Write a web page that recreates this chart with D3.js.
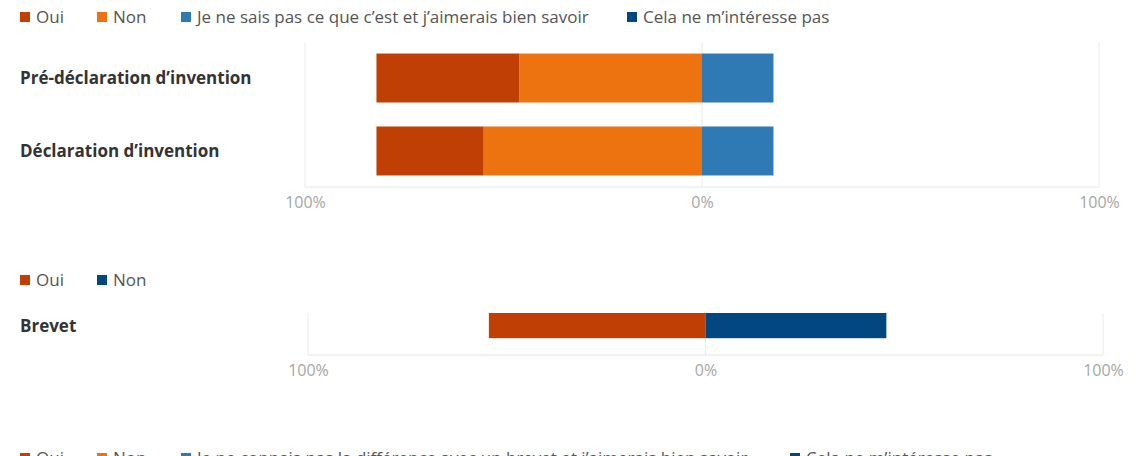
<!DOCTYPE html>
<html>
<head>
<meta charset="utf-8">
<script src="https://cdn.jsdelivr.net/npm/d3@7"></script>
<style>
  body { margin: 0; background: #fff; }
  svg text { font-family: "Open Sans", "Noto Sans", sans-serif; }
</style>
</head>
<body>
<div id="vis"></div>
<script>
// data (percent of answers)
var seriesA = ['Oui', 'Non', 'Je ne sais pas ce que c’est et j’aimerais bien savoir', 'Cela ne m’intéresse pas'];
var categoriesA = ['Pré-déclaration d’invention', 'Déclaration d’invention'];
var ouiA = [36, 27];
var nonA = [46, 55];
var jnspA = [18, 18];
var celaA = [0, 0];

var seriesB = ['Oui', 'Non'];
var categoriesB = ['Brevet'];
var ouiB = [54.5];
var nonB = [45.5];

var seriesC = ['Oui', 'Non', 'Je ne connais pas la différence avec un brevet et j’aimerais bien savoir', 'Cela ne m’intéresse pas'];

var tickValues = [-100, 0, 100];
var tickLabels = ['100%', '0%', '100%'];

var W = 1144, H = 456;

var svg = d3.select('#vis')
    .append('svg')
        .attr('width', W)
        .attr('height', H);

var legend = (y, names, colors, xs) => {
    var g = svg.append('g').attr('transform', 'translate(0,' + y + ')');
    names.forEach((name, i) => {
        g.append('rect')
            .attr('x', xs[i])
            .attr('y', -5)
            .attr('width', 10)
            .attr('height', 10)
            .style('fill', colors[i]);
        g.append('text')
            .attr('x', xs[i] + 16)
            .attr('y', 0)
            .attr('dy', '0.35em')
            .style('font-size', '17px')
            .style('fill', '#555')
            .text(name);
    });
}

// diverging stacked bar: series listed in negSeries go left of zero,
// the first of them ends up outermost
var diverging = (cfg) => {
    var x = d3.scaleLinear()
        .domain([-100, 100])
        .range(cfg.xRange);

    var y = d3.scaleBand()
        .domain(cfg.categories)
        .range(cfg.yRange)
        .paddingInner(cfg.pi)
        .paddingOuter(cfg.po)
        .align(cfg.align);

    var g = svg.append('g');

    // grid
    g.append('g')
        .selectAll('line')
        .data(tickValues)
        .enter()
        .append('line')
            .attr('x1', d => x(d))
            .attr('x2', d => x(d))
            .attr('y1', cfg.yRange[0])
            .attr('y2', cfg.yRange[1])
            .style('stroke', '#ececec')
            .style('stroke-width', 1);
    g.append('line')
        .attr('x1', x(-100))
        .attr('x2', x(100))
        .attr('y1', cfg.yRange[1])
        .attr('y2', cfg.yRange[1])
        .style('stroke', '#e6e6e6');

    var axis = d3.axisBottom(x)
        .tickValues(tickValues)
        .tickFormat((d, i) => tickLabels[i])
        .tickSize(0)
        .tickPadding(10);
    var ax = g.append('g')
        .attr('transform', 'translate(0,' + cfg.yRange[1] + ')')
        .call(axis);
    ax.select('.domain').remove();
    ax.selectAll('text')
        .style('font-size', '16px')
        .style('fill', '#a6a6a6')
        .style('font-family', '"Open Sans", sans-serif');

    var negs = cfg.series.filter(s => cfg.negSeries.indexOf(s) >= 0).reverse();
    var poss = cfg.series.filter(s => cfg.negSeries.indexOf(s) < 0);

    cfg.categories.forEach((cat, ci) => {
        var val = s => cfg.values[cfg.series.indexOf(s)][ci];
        var col = s => cfg.colors[cfg.series.indexOf(s)];
        var segs = [];
        var neg = 0, pos = 0;
        negs.forEach(s => {
            segs.push({s: s, x0: -neg - val(s), x1: -neg});
            neg += val(s);
        });
        poss.forEach(s => {
            segs.push({s: s, x0: pos, x1: pos + val(s)});
            pos += val(s);
        });
        g.append('g')
            .selectAll('rect')
            .data(segs.filter(d => d.x1 > d.x0))
            .enter()
            .append('rect')
                .attr('x', d => x(d.x0))
                .attr('y', y(cat))
                .attr('width', d => x(d.x1) - x(d.x0))
                .attr('height', y.bandwidth())
                .style('fill', d => col(d.s));
        g.append('text')
            .attr('x', 20)
            .attr('y', y(cat) + y.bandwidth() / 2)
            .attr('dy', '0.35em')
            .style('font-size', '17px')
            .style('font-weight', 'bold')
            .style('fill', '#333')
            .text(cat);
    });
}

var colorsA = ['#c03f05', '#ec730f', '#2f79b4', '#02477f'];
var colorsB = ['#c03f05', '#02477f'];

legend(17, seriesA, colorsA, [20, 97, 181, 627]);
diverging({
    categories: categoriesA,
    series: seriesA,
    values: [ouiA, nonA, jnspA, celaA],
    negSeries: ['Oui', 'Non'],
    colors: colorsA,
    xRange: [305, 1099],
    yRange: [42, 187],
    pi: 0.329, po: 0.158, align: 0.5
});

legend(280, seriesB, colorsB, [20, 97]);
diverging({
    categories: categoriesB,
    series: seriesB,
    values: [ouiB, nonB],
    negSeries: ['Oui'],
    colors: colorsB,
    xRange: [308, 1103],
    yRange: [313, 355],
    pi: 0.4, po: 0.12, align: 0
});

legend(458, seriesC, colorsA, [20, 97, 181, 790]);
</script>
</body>
</html>
